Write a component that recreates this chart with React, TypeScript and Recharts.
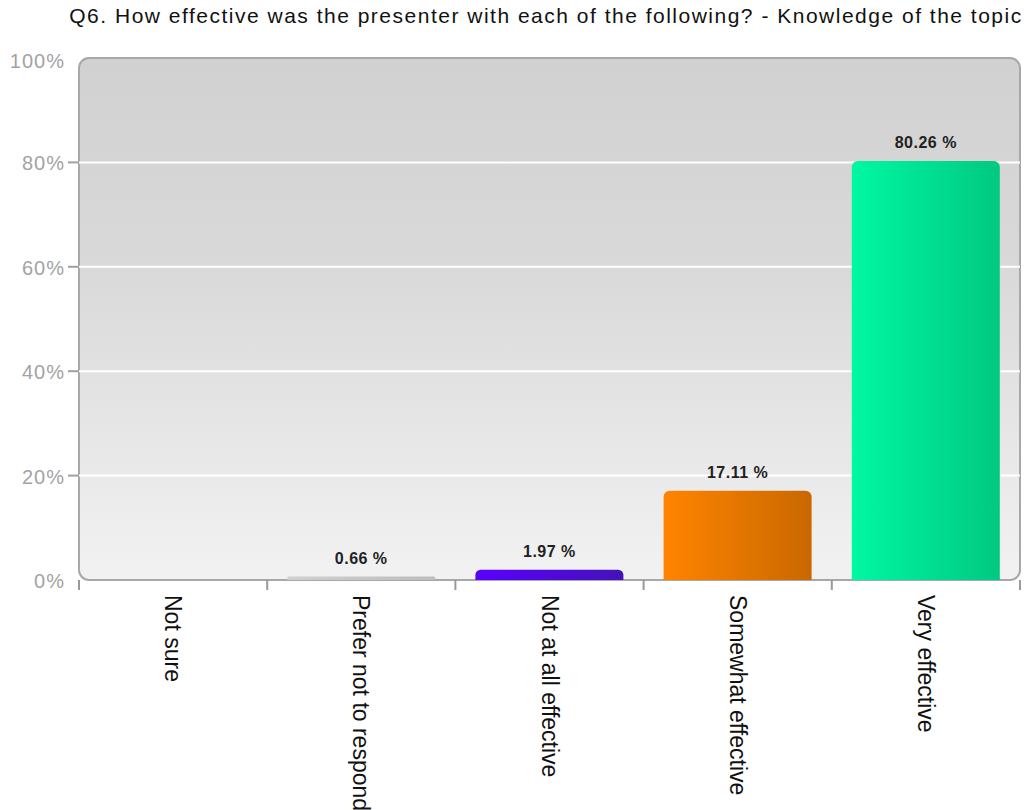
import { BarChart, Bar, XAxis, YAxis, CartesianGrid, Cell, LabelList } from 'recharts'

const categories = ['Not sure', 'Prefer not to respond', 'Not at all effective', 'Somewhat effective', 'Very effective']
const percents = [0, 0.66, 1.97, 17.11, 80.26]
const yTicks = [0, 20, 40, 60, 80, 100]
const gridValues = [20, 40, 60, 80]
const title = 'Q6. How effective was the presenter with each of the following? - Knowledge of the topic'

// left/right gradient stops for each bar
const barColors: [string, string][] = [
  ['#d0d0d0', '#bdbdbd'],
  ['#d0d0d0', '#bdbdbd'],
  ['#5a00ff', '#4412b8'],
  ['#ff8400', '#c96800'],
  ['#00f8a2', '#00c982'],
]

const data = categories.map((name, i) => ({ name, value: percents[i] }))

const W = 1032
const H = 810
const PLOT_LEFT = 79
const PLOT_RIGHT = 12
const BAND = (W - PLOT_LEFT - PLOT_RIGHT) / categories.length
const FONT = '"Liberation Sans", Arial, sans-serif'

// eslint-disable-next-line @typescript-eslint/no-explicit-any
function PercentTick({ x, y, payload }: any) {
  const axisX = PLOT_LEFT
  return (
    <g>
      {gridValues.includes(payload.value) && (
        <line x1={axisX - 11} x2={axisX} y1={y} y2={y} stroke="#a0a0a0" strokeWidth={2} />
      )}
      <text
        x={axisX - 14}
        y={y + (payload.value === 100 ? 3 : 1)}
        textAnchor="end"
        dominantBaseline="central"
        fill="#a3a3a3"
        fontSize={20}
        letterSpacing={1}
        fontFamily={FONT}
      >
        {`${payload.value}%`}
      </text>
    </g>
  )
}

// eslint-disable-next-line @typescript-eslint/no-explicit-any
function CategoryTick({ x, y, payload, index }: any) {
  const left = x - BAND / 2
  return (
    <g>
      <line x1={left} x2={left} y1={y} y2={y + 10} stroke="#9a9a9a" strokeWidth={2} />
      {index === categories.length - 1 && (
        <line x1={x + BAND / 2} x2={x + BAND / 2} y1={y} y2={y + 10} stroke="#9a9a9a" strokeWidth={2} />
      )}
      <text
        transform={`translate(${x},${y + 15}) rotate(90)`}
        textAnchor="start"
        dominantBaseline="central"
        fill="#111"
        fontSize={23}
        fontFamily={FONT}
      >
        {payload.value}
      </text>
    </g>
  )
}

export default function App() {
  return (
    <div style={{ position: 'absolute', left: 0, top: 0, width: W, height: H, background: '#fff' }}>
      <style>{`
        .recharts-cartesian-grid-bg { rx: 10px; ry: 10px; stroke: #a8a8a8; stroke-width: 2px; }
      `}</style>
      <div
        style={{
          position: 'absolute',
          left: 0,
          width: 1092,
          top: 4,
          textAlign: 'center',
          fontFamily: FONT,
          fontSize: 21,
          letterSpacing: 1.5,
          color: '#111',
          whiteSpace: 'nowrap',
        }}
      >
        {title}
      </div>
      <BarChart
        width={W}
        height={H}
        data={data}
        margin={{ top: 58, right: PLOT_RIGHT, bottom: 0, left: 0 }}
        barSize={148}
      >
        <defs>
          <linearGradient id="plotBg" x1="0" y1="0" x2="0" y2="1">
            <stop offset="0%" stopColor="#d1d1d1" />
            <stop offset="40%" stopColor="#d9d9d9" />
            <stop offset="100%" stopColor="#f2f2f2" />
          </linearGradient>
          {barColors.map(([a, b], i) => (
            <linearGradient key={i} id={`bar${i}`} x1="0" y1="0" x2="1" y2="0">
              <stop offset="0%" stopColor={a} />
              <stop offset="100%" stopColor={b} />
            </linearGradient>
          ))}
        </defs>
        <CartesianGrid
          vertical={false}
          horizontalValues={gridValues}
          stroke="#ffffff"
          strokeWidth={2}
          strokeDasharray=""
          fill="url(#plotBg)"
          fillOpacity={1}
        />
        <YAxis
          width={PLOT_LEFT}
          domain={[0, 100]}
          ticks={yTicks}
          interval={0}
          axisLine={false}
          tickLine={false}
          tick={<PercentTick />}
        />
        <XAxis
          dataKey="name"
          height={H - 580}
          interval={0}
          axisLine={false}
          tickLine={false}
          tickSize={0}
          tickMargin={0}
          tick={<CategoryTick />}
        />
        <Bar dataKey="value" radius={[6, 6, 0, 0]} isAnimationActive={false}>
          {data.map((_, i) => (
            <Cell key={i} fill={`url(#bar${i})`} />
          ))}
          <LabelList
            dataKey="value"
            position="top"
            offset={13}
            formatter={(v: number) => `${v} %`}
            fill="#222"
            fontSize={16}
            fontWeight="bold"
            letterSpacing={0.5}
            fontFamily={FONT}
          />
        </Bar>
      </BarChart>
    </div>
  )
}
